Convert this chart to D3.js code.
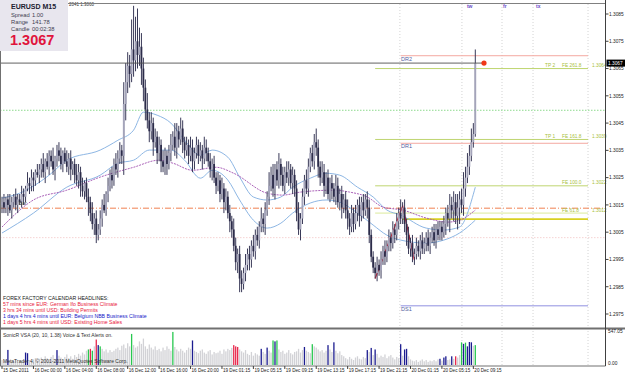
<!DOCTYPE html>
<html>
<head>
<meta charset="utf-8">
<script src="https://cdn.jsdelivr.net/npm/d3@7"></script>
<style>
    body { margin: 0; background: #fff; }
    svg { display: block; font-family: 'Liberation Sans', Arial, sans-serif; }
</style>
</head>
<body>
<div id="chart"></div>
<script>
// EURUSD M15 - prices in pips above 1.2900
const firstOpen = 115;
const closes = [
    116,114,117,115,113,116,118,115,117,116,
    119,118,121,123,122,125,124,127,126,128,
    130,127,131,129,133,131,128,132,135,133,130,134,131,129,132,
    128,130,126,124,127,122,120,123,118,116,
    112,108,110,104,106,
    110,115,113,119,122,126,124,130,
    128,132,135,133,152,
    160,166,163,172,168,175,170,173,165,158,150,146,
    142,145,138,140,134,137,131,129,133,130,
    134,137,140,136,142,139,143,138,135,137,
    133,136,131,134,137,133,135,132,136,134,
    131,128,130,125,122,124,119,
    121,116,118,112,109,106,
    100,94,97,88,86,90,
    93,97,95,100,98,104,102,107,110,108,113,
    118,122,126,121,128,124,130,126,122,127,
    125,128,123,126,121,
    112,106,110,
    118,124,121,129,134,131,138,
    136,129,125,127,122,125,119,123,
    121,118,122,116,119,114,117,113,
    110,107,112,108,
    112,115,111,116,113,117,114,
    104,96,92,
    90,93,91,95,98,96,100,103,101,106,104,109,112,110,
    114,108,104,99,101,96,
    97,100,98,102,99,101,103,100,
    103,105,102,106,104,107,105,
    108,112,110,115,113,116,111,114,
    117,115,121,125,
    129,133,138,141,
    167
];
const wickUp = [
    2,3,1,2,4,2,1,3,2,2, 3,2,1,4,2,3,2,1,3,2, 2,4,1,3,2,2,5,1,2,3, 3,1,2,4,2,3,1,2,4,3,
    2,3,1,2,3,2,4,2,3,2, 3,2,4,1,3,2,3,2,4,3, 3,2,8,7,5,4,11,16,9,12, 7,5,4,3,6,3,4,2,3,2,
    3,2,4,3,2,3,4,2,5,3, 2,4,3,2,3,2,4,3,2,3, 2,3,2,4,3,2,3,2,3,2, 3,2,4,2,3,2,3,2,4,3,
    2,3,3,2,4,2,3,2,4,2, 3,2,4,2,3,2,5,3,4,2, 3,4,2,3,2,4,3,2,3,2, 3,4,2,3,2,4,3,2,3,3,
    5,3,2,4,3,2,3,2,3,2, 4,3,2,3,2,3,4,2,3,2, 3,2,3,2,3,2,3,3,2,2, 2,3,2,3,2,4,2,3,2,3,
    2,3,2,5,2,3,2,3,2,3, 2,3,2,2,3,2,2,3,2,2, 3,2,3,2,2,3,2,3,4,3, 4,3,5,3,4,6,4,5,4,5,
    4,5
];
const wickDn = [
    3,2,2,4,1,3,2,2,3,1, 2,3,2,1,3,2,4,2,1,3, 3,2,4,1,3,2,2,4,3,2, 2,3,1,2,3,4,2,3,2,3,
    4,2,3,2,5,3,2,4,3,2, 2,3,1,2,3,2,3,2,2,3, 2,3,7,6,4,5,3,6,4,5, 4,6,5,4,3,4,3,5,2,4,
    3,4,2,3,4,2,3,2,3,4, 3,2,4,3,2,3,2,4,3,2, 3,2,4,2,3,2,3,4,2,3, 2,3,2,4,3,2,4,3,2,3,
    4,5,3,2,3,2,4,3,2,3, 2,3,2,3,4,2,3,2,3,4, 2,3,4,2,3,2,3,2,4,3, 3,2,4,2,3,2,3,2,2,3,
    3,4,3,2,4,3,2,3,4,2, 3,2,3,4,2,3,4,3,2,3, 2,3,4,2,3,2,4,3,2,2, 2,3,2,3,2,3,2,2,3,2,
    3,2,3,2,2,3,4,2,3,2, 3,2,2,3,2,2,3,2,3,2, 2,3,2,2,3,2,4,3,5,3, 4,3,5,6,3,4,3,2,3,2,
    2,1
];

// SonicR VSA volume
const volumes = [
    80,60,90,243,70,50,60,80,40,70, 60,90,200,190,80,60,90,110,70,100,
    120,90,140,110,80,130,160,100,240,150, 120,90,130,170,110,140,100,160,130,180,
    150,200,170,230,250,260,230,300,410,320, 300,260,220,250,200,240,210,230,260,280,
    240,310,330,270,350,300,500,320,280,300, 380,340,425,300,260,330,280,250,300,240,
    260,220,280,240,300,260,230,532,290,250, 220,260,230,200,240,280,260,395,230,210,
    190,230,250,200,180,220,240,170,210,190, 200,230,180,250,220,260,240,275,320,300,
    290,250,220,200,240,180,160,210,150,190, 170,150,260,210,180,280,230,200,395,380,
    395,250,210,230,180,200,240,190,170,210, 220,260,200,240,290,230,210,190,335,300,
    280,250,220,240,200,230,320,250,210,365, 230,190,220,160,140,110,90,130,100,80,
    120,140,100,90,130,110,240,210,275,160, 250,180,120,150,130,170,110,140,160,120,
    90,130,110,335,150,250,260,140,90,70, 60,80,50,70,90,60,80,50,70,60,
    80,60,90,100,70,120,140,80,90,140, 100,140,120,160,365,340,360,300,370,365,
    310,320
];
const blueBars = [3,12,13,28,49,97,132,135,139,154,166,169,186,188,190,203,205,206,223,225,226,229,235,237,238,239];
const redBars = [45,48,118,119,120,231];
const greenBars = [44,46,50,66,87,138,140,158,234,236,241];

// moving averages [bar, pips]
const maPurple = [[0,106.9],[16,116.8],[33,120.4],[50,125.2],[67,128.8],[80,131.4],[87,130.3],[97,127.7],[109,128.8],[118,126.6],[135,119.3],[143,118.6],[152,119.7],[169,120.4],[177,119.7],[186,117.9],[194,114.2],[204,113.1],[216,110.2],[227,108.7],[233,109.4],[241,113.1]];
const maBlueA = [[0,117.5],[9,119.3],[24,125.9],[33,131.4],[50,135.1],[59,138.7],[67,142.4],[72,149],[79,147.9],[86,145],[93,138.7],[101,133.2],[107,135.1],[115,132.5],[121,125.2],[128,117.9],[135,116.8],[142,117.9],[148,121.5],[157,124.8],[165,126.6],[172,125.9],[181,121.5],[189,117.9],[196,113.1],[203,111.3],[216,106.5],[225,105.8],[233,106.9],[241,121.5]];
const maBlueB = [[0,104.7],[16,112],[33,121.5],[50,125.9],[59,130.3],[67,131.4],[75,135.1],[86,135.1],[93,131.4],[101,124.8],[107,127.7],[115,124.1],[121,116.8],[128,109.4],[135,106.5],[142,108.3],[148,112],[157,115.7],[165,116.8],[172,116],[181,112],[189,107.6],[196,103.9],[203,102.1],[216,101],[225,102.1],[233,104.7],[241,109.4]];
const zigzag = [[190,88],[204,114.6],[210,94.8]];

// levels (price)
const currentPrice = 1.3067;
const drNames = ['DR2', 'DR1', 'DS1'];
const drPrices = [1.30697, 1.30376, 1.2978];
const feNames = ['FE 261.8', 'FE 161.8', 'FE 100.0', 'FE 61.8'];
const tpNames = ['TP 2', 'TP 1', '', ''];
const fePrices = [1.3065, 1.3039, 1.3022, 1.3012];
const feValues = ['1.3064', '1.3039', '1.3022', '1.3012'];
const pivotPrice = 1.30138;
const yellowPrice = 1.30098;
const greenDotPrice = 1.30497;
const pinkPrice = 1.3003;
const sessionBars = [202.6, 234.2, 254.6, 270.4, 298.4];
const sessionNames = ['tw', 'fr', 'tx'];

const priceTicks = [1.3085, 1.3075, 1.3065, 1.3055, 1.3045, 1.3035, 1.3025, 1.3015, 1.3005, 1.2995, 1.2985, 1.2975];
const timeLabels = ['15 Dec 2011', '16 Dec 00:00', '16 Dec 04:00', '16 Dec 08:00', '16 Dec 12:00', '16 Dec 16:00', '16 Dec 20:00',
    '19 Dec 01:15', '19 Dec 05:15', '19 Dec 09:15', '19 Dec 13:15', '19 Dec 17:15', '19 Dec 21:15', '20 Dec 01:15', '20 Dec 05:15', '20 Dec 09:15'];

const headlines = [
    ['FOREX FACTORY CALENDAR HEADLINES:', '#202020'],
    ['57 mins since EUR: German Ifo Business Climate', '#e8203c'],
    ['3 hrs 34 mins until USD: Building Permits', '#e8203c'],
    ['1 days 4 hrs 4 mins until EUR: Belgium NBB Business Climate', '#2020c8'],
    ['1 days 5 hrs 4 mins until USD: Existing Home Sales', '#e8203c']
];

const W = 625, H = 375;
const svg = d3.select('#chart').append('svg').attr('width', W).attr('height', H);

const pip = (p) => 1.29 + p / 10000;
const x = d3.scaleLinear().domain([0, 241]).range([2, 475.3]);
const y = d3.scaleLinear().domain([1.2975, 1.3085]).range([314, 14]);
const vy = d3.scaleLinear().domain([0, 547.05]).range([365, 331]);
const axisX = 605.5;

// bars
const bars = closes.map((c, i) => {
    const o = i === 0 ? firstOpen : closes[i - 1];
    return { i, o, c, h: Math.max(o, c) + wickUp[i], l: Math.min(o, c) - wickDn[i] };
});

// background grid / session lines
const g = svg.append('g');
sessionBars.forEach((b) => {
    g.append('line').attr('x1', x(b)).attr('x2', x(b)).attr('y1', 4).attr('y2', 366)
        .attr('stroke', '#c8c8c8').attr('stroke-width', 0.8).attr('stroke-dasharray', '1,2');
});

// full width lines
g.append('line').attr('x1', 0).attr('x2', axisX).attr('y1', y(greenDotPrice)).attr('y2', y(greenDotPrice))
    .attr('stroke', '#70d070').attr('stroke-width', 0.8).attr('stroke-dasharray', '1.5,1.5');
g.append('line').attr('x1', 0).attr('x2', axisX).attr('y1', y(pinkPrice)).attr('y2', y(pinkPrice))
    .attr('stroke', '#f4c8c8').attr('stroke-width', 0.8).attr('stroke-dasharray', '1.5,1.5');
g.append('line').attr('x1', 0).attr('x2', axisX).attr('y1', y(pivotPrice)).attr('y2', y(pivotPrice))
    .attr('stroke', '#f08050').attr('stroke-width', 1).attr('stroke-dasharray', '6,2,1,2');

// fib extension lines
const feStart = x(zigzag[0][0]), lvlEnd = x(298.4);
fePrices.forEach((p, k) => {
    g.append('line').attr('x1', feStart).attr('x2', lvlEnd).attr('y1', y(p)).attr('y2', y(p))
        .attr('stroke', k === 3 ? '#d8e890' : '#b8d060').attr('stroke-width', 0.9);
    const ty = y(p) - 1.5;
    if (tpNames[k]) g.append('text').attr('x', 545).attr('y', ty).text(tpNames[k]).attr('font-size', 4.8).attr('fill', '#a8c040');
    g.append('text').attr('x', 562).attr('y', ty).text(feNames[k]).attr('font-size', 4.8).attr('fill', '#a8c040');
    g.append('text').attr('x', 592).attr('y', ty).text(feValues[k]).attr('font-size', 4.8).attr('fill', '#a8c040');
});
g.append('line').attr('x1', x(204)).attr('x2', lvlEnd).attr('y1', y(yellowPrice)).attr('y2', y(yellowPrice))
    .attr('stroke', '#d8d020').attr('stroke-width', 1.6);

// DR / DS lines
drPrices.forEach((p, k) => {
    g.append('line').attr('x1', x(203)).attr('x2', lvlEnd).attr('y1', y(p)).attr('y2', y(p))
        .attr('stroke', k < 2 ? '#f4a8a0' : '#9090e0').attr('stroke-width', 1);
    g.append('text').attr('x', 401).attr('y', y(p) + 5).text(drNames[k]).attr('font-size', 5.5).attr('fill', '#5060a0');
});

// moving averages
const line = d3.line().x((d) => x(d[0])).y((d) => y(pip(d[1]))).curve(d3.curveMonotoneX);
g.append('path').attr('d', line(maBlueA)).attr('fill', 'none').attr('stroke', '#80aee0').attr('stroke-width', 0.9);
g.append('path').attr('d', line(maBlueB)).attr('fill', 'none').attr('stroke', '#80aee0').attr('stroke-width', 0.9);
g.append('path').attr('d', line(maPurple)).attr('fill', 'none').attr('stroke', '#a050b0').attr('stroke-width', 0.9)
    .attr('stroke-dasharray', '2,1');

// candles
const cg = svg.append('g');
cg.selectAll('.wick').data(bars).enter().append('line').attr('class', 'wick')
    .attr('x1', (d) => x(d.i)).attr('x2', (d) => x(d.i))
    .attr('y1', (d) => y(pip(d.h))).attr('y2', (d) => y(pip(d.l)))
    .attr('stroke', '#3a3a58').attr('stroke-width', 1);
cg.selectAll('.body').data(bars).enter().append('rect').attr('class', 'body')
    .attr('x', (d) => x(d.i) - 0.9).attr('width', 1.8)
    .attr('y', (d) => y(pip(Math.max(d.o, d.c))))
    .attr('height', (d) => Math.max(1, Math.abs(y(pip(d.o)) - y(pip(d.c)))))
    .attr('fill', (d) => (d.c >= d.o ? '#a4a4ba' : '#2c2c4a'));

// zigzag
g.append('path').attr('d', d3.line().x((d) => x(d[0])).y((d) => y(pip(d[1])))(zigzag))
    .attr('fill', 'none').attr('stroke', '#e82030').attr('stroke-width', 1.2);

// current price line + dot
svg.append('line').attr('x1', 0).attr('x2', 484).attr('y1', y(currentPrice)).attr('y2', y(currentPrice))
    .attr('stroke', '#505050').attr('stroke-width', 0.9);
svg.append('circle').attr('cx', 484).attr('cy', y(currentPrice)).attr('r', 2.6).attr('fill', '#f03818');

// session labels
const labelShift = [5, 1, 3];
sessionNames.forEach((s, k) => {
    svg.append('text').attr('x', x(sessionBars[k + 1]) + labelShift[k]).attr('y', 8).text(s)
        .attr('font-size', 5).attr('font-weight', 'bold').attr('fill', '#6a4ac8');
});

// Bar label
svg.append('text').attr('x', 19).attr('y', 205).text('Bar').attr('font-size', 5).attr('fill', '#404040');
svg.append('text').attr('x', 69).attr('y', 6).text('2041 1.3060').attr('font-size', 4.5).attr('fill', '#303030');

// headlines
headlines.forEach((h, k) => {
    svg.append('text').attr('x', 3).attr('y', 299.5 + k * 6.2).text(h[0]).attr('font-size', 5.2).attr('fill', h[1]);
});

// volume bars
const colorOf = (i) => blueBars.includes(i) ? '#1c1c90' : redBars.includes(i) ? '#e8284c'
    : greenBars.includes(i) ? '#28c850' : '#d2d2d6';
svg.append('g').selectAll('rect').data(volumes).enter().append('rect')
    .attr('x', (d, i) => x(i) - 0.65).attr('width', 1.3)
    .attr('y', (d) => vy(d)).attr('height', (d) => vy(0) - vy(d))
    .attr('fill', (d, i) => colorOf(i));
svg.append('text').attr('x', 3).attr('y', 337).text('SonicR VSA (20, 10, 1.38)   Voice & Text Alerts on.')
    .attr('font-size', 5).attr('fill', '#303030');
svg.append('text').attr('x', 3).attr('y', 363).text('MetaTrader 4, \u00a9 2001-2011 MetaQuotes Software Corp.')
    .attr('font-size', 5).attr('fill', '#303030');

// frames
svg.append('line').attr('x1', 0).attr('x2', axisX).attr('y1', 3.5).attr('y2', 3.5).attr('stroke', '#808080').attr('stroke-width', 1);
svg.append('line').attr('x1', 0).attr('x2', W).attr('y1', 328.5).attr('y2', 328.5).attr('stroke', '#707070').attr('stroke-width', 2);
svg.append('line').attr('x1', 0).attr('x2', axisX).attr('y1', 366).attr('y2', 366).attr('stroke', '#707070').attr('stroke-width', 1);
svg.append('line').attr('x1', 0.5).attr('x2', 0.5).attr('y1', 3.5).attr('y2', 366).attr('stroke', '#707070').attr('stroke-width', 1);
svg.append('line').attr('x1', axisX).attr('x2', axisX).attr('y1', 0).attr('y2', 366).attr('stroke', '#404040').attr('stroke-width', 1);

// price axis
const ay = svg.append('g');
priceTicks.forEach((p) => {
    ay.append('line').attr('x1', axisX).attr('x2', axisX + 3).attr('y1', y(p)).attr('y2', y(p)).attr('stroke', '#404040');
    ay.append('text').attr('x', 609).attr('y', y(p) + 1.8).text(p.toFixed(4)).attr('font-size', 4.8).attr('fill', '#202020');
});
ay.append('rect').attr('x', axisX + 1).attr('y', y(currentPrice) - 3.5).attr('width', 19).attr('height', 7).attr('fill', '#000');
ay.append('text').attr('x', 608).attr('y', y(currentPrice) + 1.8).text(currentPrice.toFixed(4))
    .attr('font-size', 4.8).attr('fill', '#fff');
ay.append('text').attr('x', 608).attr('y', vy(547.05) + 2).text('547.05').attr('font-size', 4.8).attr('fill', '#202020');
ay.append('text').attr('x', 608).attr('y', vy(0)).text('0.00').attr('font-size', 4.8).attr('fill', '#202020');

// time axis
timeLabels.forEach((t, k) => {
    const tx = x(k * 16);
    svg.append('line').attr('x1', tx).attr('x2', tx).attr('y1', 366).attr('y2', 369).attr('stroke', '#404040');
    svg.append('text').attr('x', tx + 1).attr('y', 372).text(t).attr('font-size', 4.6).attr('fill', '#202020');
});

// info box
const info = svg.append('g');
info.append('rect').attr('x', 0).attr('y', 0).attr('width', 68).attr('height', 51).attr('fill', '#e8e6ee');
info.append('text').attr('x', 11).attr('y', 8.5).text('EURUSD   M15').attr('font-size', 7).attr('font-weight', 'bold').attr('fill', '#202030');
[['Spread', '1.00'], ['Range', '141.78'], ['Candle', '00:02:38']].forEach((r, k) => {
    info.append('text').attr('x', 11).attr('y', 17 + k * 6.8).text(r[0]).attr('font-size', 5.8).attr('fill', '#404050');
    info.append('text').attr('x', 32).attr('y', 17 + k * 6.8).text(r[1]).attr('font-size', 5.8).attr('fill', '#404050');
});
info.append('text').attr('x', 10).attr('y', 45).text(currentPrice.toFixed(4)).attr('font-size', 14.5)
    .attr('font-weight', 'bold').attr('fill', '#e0143c');
</script>
</body>
</html>
